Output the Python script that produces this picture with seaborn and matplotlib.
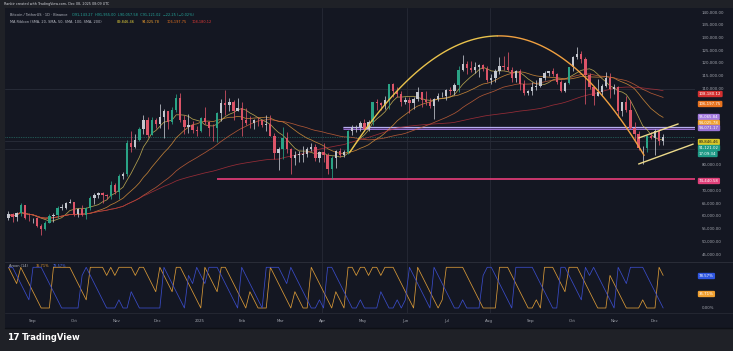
import numpy as np
import pandas as pd
import matplotlib
matplotlib.use("Agg")
import matplotlib.pyplot as plt
import matplotlib.dates as mdates
from matplotlib.patches import Rectangle
import seaborn as sns

# ---------------- data (3-day bars, prices in thousands USDT) ----------------
bar_start = "2024-08-13"
first_open = 59.4
close = [60.6, 59.5, 61.2, 64.2, 59.4, 59.1, 59.1,
         56.2, 54.9, 57.4, 60.0, 60.3, 63.2, 63.3, 65.2, 65.6, 60.6,
         62.8, 60.3, 63.2, 67.0, 68.4, 69.0, 68.2, 67.9, 72.3, 69.4,
         75.6, 76.5, 88.7, 87.2, 89.8, 94.3, 97.8, 91.9, 97.5, 95.9,
         99.0, 101.2, 96.7, 101.4, 106.1, 97.5, 94.8, 95.8, 93.7, 93.4,
         98.3, 96.9, 94.7, 94.5, 100.5, 104.4, 103.7, 104.7, 101.3, 102.4, 97.7,
         96.6, 96.5, 97.8, 97.5, 95.6, 96.1, 91.5, 84.7, 86.1,
         90.6, 86.2, 82.9, 84.0, 84.1, 84.2, 86.1, 86.9, 82.6, 85.2,
         83.8, 78.4, 82.6, 85.3, 84.0, 85.1, 93.4, 94.6, 95.0, 96.5,
         94.3, 97.0, 104.8, 104.2, 103.5, 105.6, 111.7, 109.0, 107.8, 104.6, 105.4,
         104.3, 105.7, 108.7, 105.5, 104.6, 103.3, 106.0, 107.1, 107.1, 109.6,
         108.9, 111.3, 117.4, 119.8, 117.9, 117.4, 118.3, 119.4, 117.8, 113.3,
         114.2, 116.7, 118.7, 118.3, 117.4, 114.3, 116.9, 111.8, 108.4, 109.2,
         110.7, 111.1, 114.0, 115.9, 116.8, 115.7, 112.7, 109.0, 112.1, 118.6,
         122.2, 123.5, 121.7, 115.3, 110.7, 107.2, 108.5, 111.0, 114.1, 110.0, 110.6,
         101.3, 104.7, 101.6, 94.6, 92.2, 86.6, 86.8, 91.3, 90.4, 93.4,
         89.3, 91.1]
high = [61.8, 61.0, 61.5, 65.0, 64.5, 61.2, 59.4,
        59.8, 57.0, 58.0, 60.7, 61.3, 64.1, 64.8, 65.3, 66.5, 65.2,
        63.0, 64.5, 63.4, 67.9, 68.9, 69.5, 69.5, 68.8, 73.6, 72.9,
        76.4, 77.2, 89.9, 93.5, 92.0, 94.9, 99.6, 98.8, 98.7, 98.6,
        104.0, 102.0, 101.3, 102.6, 107.8, 108.4, 99.5, 99.9, 97.3, 95.2,
        98.8, 102.7, 97.3, 95.9, 100.9, 105.8, 109.6, 106.4, 105.3, 106.4, 104.9,
        102.5, 99.1, 98.2, 98.8, 97.7, 99.5, 99.5, 92.5, 87.0,
        95.0, 92.8, 86.8, 85.3, 85.3, 87.4, 86.9, 88.8, 88.2, 85.5,
        88.5, 84.7, 83.5, 86.0, 86.5, 86.0, 93.8, 95.7, 95.6, 97.4,
        97.9, 97.7, 104.9, 105.8, 104.9, 107.1, 111.9, 112.0, 110.4, 108.9, 106.8,
        106.8, 106.5, 110.5, 108.1, 108.9, 106.1, 106.3, 108.1, 108.5, 110.0,
        110.6, 112.0, 118.9, 123.2, 120.9, 120.8, 120.2, 119.8, 119.8, 118.9,
        115.8, 117.6, 122.3, 122.8, 124.5, 118.6, 117.4, 117.5, 113.5, 109.3,
        112.6, 113.4, 114.3, 116.8, 117.0, 117.9, 116.0, 113.2, 112.4, 118.6,
        122.9, 126.2, 124.9, 122.5, 116.0, 111.0, 113.9, 111.9, 116.4, 116.0, 111.7,
        110.9, 104.9, 107.0, 105.3, 96.8, 93.2, 87.5, 91.9, 93.1, 94.1,
        94.2, 92.0]
low = [58.4, 57.8, 58.1, 60.0, 58.8, 57.9, 57.2,
       55.6, 52.6, 54.6, 57.6, 57.5, 59.2, 62.3, 62.7, 65.0, 60.0,
       59.8, 60.1, 58.9, 62.4, 64.8, 67.1, 65.1, 66.6, 66.8, 68.7,
       66.8, 74.4, 75.8, 85.1, 86.6, 89.4, 92.0, 90.8, 91.9, 94.5,
       94.5, 90.5, 94.3, 96.0, 100.8, 97.0, 92.2, 92.5, 92.5, 91.3,
       92.9, 96.0, 91.2, 89.3, 89.2, 97.3, 99.5, 101.2, 97.8, 101.1, 91.2,
       95.7, 94.7, 94.0, 95.4, 94.9, 93.4, 91.2, 82.3, 78.2,
       82.3, 84.6, 76.6, 79.9, 81.3, 81.1, 83.2, 85.5, 81.6, 81.3,
       81.2, 76.3, 74.4, 78.9, 83.2, 83.0, 84.4, 91.7, 92.8, 93.5,
       93.5, 93.4, 95.8, 101.5, 101.4, 102.1, 102.0, 106.8, 106.7, 103.1, 103.9,
       100.4, 101.9, 105.1, 102.7, 103.4, 102.3, 98.2, 105.2, 106.6, 105.3,
       107.3, 107.5, 108.6, 116.9, 115.7, 116.5, 115.9, 114.7, 116.9, 112.7,
       111.9, 112.6, 115.8, 117.2, 116.8, 112.4, 112.4, 109.3, 107.3, 107.3,
       107.3, 109.3, 110.5, 113.3, 114.8, 114.8, 111.9, 108.6, 108.6, 111.6,
       116.9, 121.6, 120.0, 104.0, 110.0, 103.5, 107.2, 106.9, 110.6, 106.3, 108.0,
       98.9, 99.2, 100.8, 94.0, 89.3, 85.9, 80.5, 85.2, 90.1, 83.8,
       88.0, 87.7]

ma_periods = [7, 17, 33, 67]           # 20 / 50 / 100 / 200 days on 3-day bars
ma_colors = ["#d9c25a", "#e89a3c", "#d4663a", "#b8323c"]
aroon_len = 5

price_ticks = [45, 50, 55, 60, 65, 70, 80, 110, 115, 120, 125, 130, 135, 140]
month_ticks = ["2024-09-01", "2024-10-01", "2024-11-01", "2024-12-01", "2025-01-01",
               "2025-02-01", "2025-03-01", "2025-04-01", "2025-05-01", "2025-06-01",
               "2025-07-01", "2025-08-01", "2025-09-01", "2025-10-01", "2025-11-01",
               "2025-12-01"]
month_labels = ["Sep", "Oct", "Nov", "Dec", "2025", "Feb", "Mar", "Apr", "May", "Jun",
                "Jul", "Aug", "Sep", "Oct", "Nov", "Dec"]

# drawings
arc_days = ["2025-04-21", "2025-05-26", "2025-06-21", "2025-08-09", "2025-09-27", "2025-10-16", "2025-11-15"]
arc_prices = [84.7, 109.4, 121.2, 130.2, 122.4, 110.0, 91.0]
wedge_up_days = ["2025-11-19", "2025-12-18"]
wedge_up_prices = [90.6, 96.1]
wedge_lo_days = ["2025-11-19", "2025-12-29"]
wedge_lo_prices = [80.4, 88.2]
zone_start = "2025-04-16"
zone_bottom, zone_top = 94.07, 95.07
support_start = "2025-01-14"
support_level = 74.44058
last_price = 91.12102
faint_levels = [110.0, 89.5, 86.3]
faint_vlines = ["2025-04-01", "2025-06-02", "2025-08-02"]

# ---------------- derived table ----------------
dates = pd.date_range(bar_start, periods=len(close), freq="3D")
df = pd.DataFrame({"date": dates + pd.Timedelta(days=1), "close": close, "high": high, "low": low})
df["open"] = [first_open] + close[:-1]
df["high"] = df[["high", "open", "close"]].max(axis=1)
df["low"] = df[["low", "open", "close"]].min(axis=1)

def aroon(h, l, n):
    up, dn = [], []
    for i in range(len(h)):
        s = max(0, i - n)
        wh = np.asarray(h[s:i + 1]); wl = np.asarray(l[s:i + 1])
        ih = len(wh) - 1 - np.argmax(wh[::-1])
        il = len(wl) - 1 - np.argmin(wl[::-1])
        up.append(100.0 * (n - (len(wh) - 1 - ih)) / n)
        dn.append(100.0 * (n - (len(wl) - 1 - il)) / n)
    return up, dn

df["aroon_up"], df["aroon_dn"] = aroon(list(df["high"]), list(df["low"]), aroon_len)

# ---------------- figure ----------------
W, H = 733, 351
sns.set_theme(style="dark")
plt.rcParams["font.family"] = ["DejaVu Sans"]
fig = plt.figure(figsize=(W / 100, H / 100), dpi=100, facecolor="#1f2127")

def fx(px): return px / W
def fy(py): return 1 - py / H

# chart background
fig.patches.append(Rectangle((fx(5), fy(328)), fx(728), 320 / H, transform=fig.transFigure,
                             facecolor="#141722", edgecolor="none", zorder=-10))

ax = fig.add_axes([fx(5), fy(262), fx(690), (262 - 8) / H])
ax2 = fig.add_axes([fx(5), fy(313), fx(690), (313 - 262) / H], sharex=ax)
for a in (ax, ax2):
    a.set_facecolor("#141722")
    for s in a.spines.values():
        s.set_visible(False)
    a.grid(False)

d0 = mdates.date2num(pd.Timestamp("2024-09-01"))
xlim = (d0 + (5 - 33) / 1.364, d0 + (695 - 33) / 1.364)
p_top = 140 + (12 - 8) / 12.75 * 5
p_bot = 140 - (262 - 12) / 12.75 * 5

# faint lines
for lv in faint_levels:
    ax.axhline(lv, color="#2a2e3b", lw=0.6, zorder=1)
for vd in faint_vlines:
    ax.axvline(pd.Timestamp(vd), color="#262a36", lw=0.6, zorder=1)
    ax2.axvline(pd.Timestamp(vd), color="#262a36", lw=0.6, zorder=1)

# zone & support
zs = mdates.date2num(pd.Timestamp(zone_start))
ax.add_patch(Rectangle((zs, zone_bottom), xlim[1] - zs, zone_top - zone_bottom,
                       facecolor="#6a3aa0", alpha=0.55, edgecolor="none", zorder=2))
ax.hlines([zone_top], zs, xlim[1], color="#b7b0f0", lw=0.9, zorder=3)
ax.hlines([zone_bottom], zs, xlim[1], color="#9a6fd0", lw=0.7, zorder=3)
ax.hlines([support_level], mdates.date2num(pd.Timestamp(support_start)), xlim[1], color="#d93a73", lw=1.3, zorder=3)
ax.axhline(last_price, color="#2f8f80", lw=0.5, ls=(0, (1, 1.5)), zorder=2)

# MA ribbon
for n, col in zip(ma_periods, ma_colors):
    ma = df["close"].rolling(n, min_periods=1).mean()
    sns.lineplot(x=df["date"], y=ma, ax=ax, color=col, lw=0.55, alpha=0.8, zorder=4)

# candles
up = df["close"] >= df["open"]
strong = df["close"] > df["open"] * 1.04
col = np.where(strong, "#2aa386", np.where(up, "#c4c7cf", "#dc5468"))
ax.vlines(df["date"], df["low"], df["high"], colors=col, lw=0.55, zorder=5)
ax.bar(df["date"], (df["close"] - df["open"]).abs().clip(lower=0.15),
       bottom=df[["open", "close"]].min(axis=1), width=1.7, color=col, lw=0, zorder=6)

# arc drawing (smooth curve through read points), yellow on the left, orange on the right
ad = mdates.date2num(pd.to_datetime(arc_days))
coef = np.polyfit(ad - ad[0], arc_prices, 3)
xx = np.linspace(ad[0], ad[-1] + 8, 240)
arc_df = pd.DataFrame({"x": mdates.num2date(xx), "y": np.polyval(coef, xx - ad[0])})
half = len(arc_df) // 2
sns.lineplot(data=arc_df.iloc[:half + 1], x="x", y="y", ax=ax, color="#e9c24c", lw=1.0, zorder=7)
sns.lineplot(data=arc_df.iloc[half:], x="x", y="y", ax=ax, color="#f0a040", lw=1.0, zorder=7)

for dd, pp in ((wedge_up_days, wedge_up_prices), (wedge_lo_days, wedge_lo_prices)):
    sns.lineplot(x=pd.to_datetime(dd), y=pp, ax=ax, color="#ecd98a", lw=1.0, zorder=7)

# Aroon
sns.lineplot(x=df["date"], y=df["aroon_up"], ax=ax2, color="#d99a38", lw=0.55)
sns.lineplot(x=df["date"], y=df["aroon_dn"], ax=ax2, color="#3a4cc8", lw=0.55)

ax.set_xlim(*xlim)
ax.set_ylim(p_bot, p_top)
ax2.set_ylim(-(313 - 308) / 0.407, (308 - 262) / 0.407)

# axes ticks
ax.set_yticks(price_ticks)
ax.yaxis.tick_right()
ax.set_yticklabels([f"{v*1000:,.2f}" for v in price_ticks])
ax.tick_params(axis="y", length=0, pad=5, labelsize=2.8, labelcolor="#a3a6af")
ax.tick_params(axis="x", bottom=False, labelbottom=False)
ax.set_xlabel(""); ax.set_ylabel("")
ax2.set_yticks([])
ax2.set_xticks(pd.to_datetime(month_ticks))
ax2.set_xticklabels(month_labels)
ax2.tick_params(axis="x", length=0, pad=4, labelsize=2.9, labelcolor="#a3a6af")
ax2.set_xlabel(""); ax2.set_ylabel("")

# pane separators
fig.add_artist(plt.Line2D([fx(5), fx(733)], [fy(262), fy(262)], color="#2a2d38", lw=0.7))
fig.add_artist(plt.Line2D([fx(5), fx(733)], [fy(313), fy(313)], color="#2a2d38", lw=0.5))
fig.add_artist(plt.Line2D([fx(5), fx(733)], [fy(328), fy(328)], color="#0e1016", lw=1.0))

# right-side value labels
labels = [("108,180.12", 94, "#d32f2f", "white"),
          ("106,197.75", 104, "#e8731f", "white"),
          ("95,065.84", 117, "#a47be0", "white"),
          ("94,025.78", 123, "#f0a030", "white"),
          ("94,071.17", 128, "#9a74d6", "white"),
          ("89,846.46", 142, "#d8c72a", "#1a1a1a"),
          ("91,121.02", 148, "#1f9a86", "white"),
          ("17:09:34", 154, "#1f9a86", "white"),
          ("74,440.58", 181, "#e0407a", "white"),
          ("78.57%", 276, "#2f56e0", "white"),
          ("35.71%", 294, "#f0a030", "white")]
for t, py, fc, tc in labels:
    fig.text(fx(699), fy(py), t, fontsize=2.8, color=tc, ha="left", va="center",
             bbox=dict(boxstyle="round,pad=0.3", fc=fc, ec="none"))
fig.text(fx(702), fy(308), "0.00%", fontsize=2.8, color="#a3a6af", ha="left", va="center")

# header texts
fig.text(fx(4), fy(4), "Ranbir created with TradingView.com, Dec 08, 2025 08:09 UTC",
         fontsize=2.4, color="#d0d2d8", ha="left", va="center")
fig.text(fx(10), fy(15), "Bitcoin / TetherUS · 1D · Binance", fontsize=2.5, color="#b8bbc4", ha="left", va="center")
fig.text(fx(72), fy(15), "O91,143.27  H91,955.00  L90,057.58  C91,121.02  −22.25 (−0.02%)",
         fontsize=2.5, color="#26a69a", ha="left", va="center")
fig.text(fx(10), fy(22), "MA Ribbon (SMA, 20, SMA, 50, SMA, 100, SMA, 200)", fontsize=2.5,
         color="#b8bbc4", ha="left", va="center")
xs = 117
for t, c in (("89,846.46", "#e6d23a"), ("94,025.78", "#f0a030"), ("106,197.75", "#e8731f"), ("108,180.12", "#e53935")):
    fig.text(fx(xs), fy(22), t, fontsize=2.5, color=c, ha="left", va="center")
    xs += 25
fig.text(fx(9), fy(266), "Aroon (14)", fontsize=2.5, color="#b8bbc4", ha="left", va="center")
fig.text(fx(36), fy(266), "35.71%", fontsize=2.5, color="#f0a030", ha="left", va="center")
fig.text(fx(53), fy(266), "78.57%", fontsize=2.5, color="#4a6cf0", ha="left", va="center")

# TradingView logo
fig.text(fx(7), fy(338), "17", fontsize=6.5, color="white", weight="bold", ha="left", va="center")
fig.text(fx(22), fy(338), "TradingView", fontsize=6.0, color="white", weight="bold", ha="left", va="center")

fig.savefig("out.png", dpi=100, facecolor=fig.get_facecolor())
